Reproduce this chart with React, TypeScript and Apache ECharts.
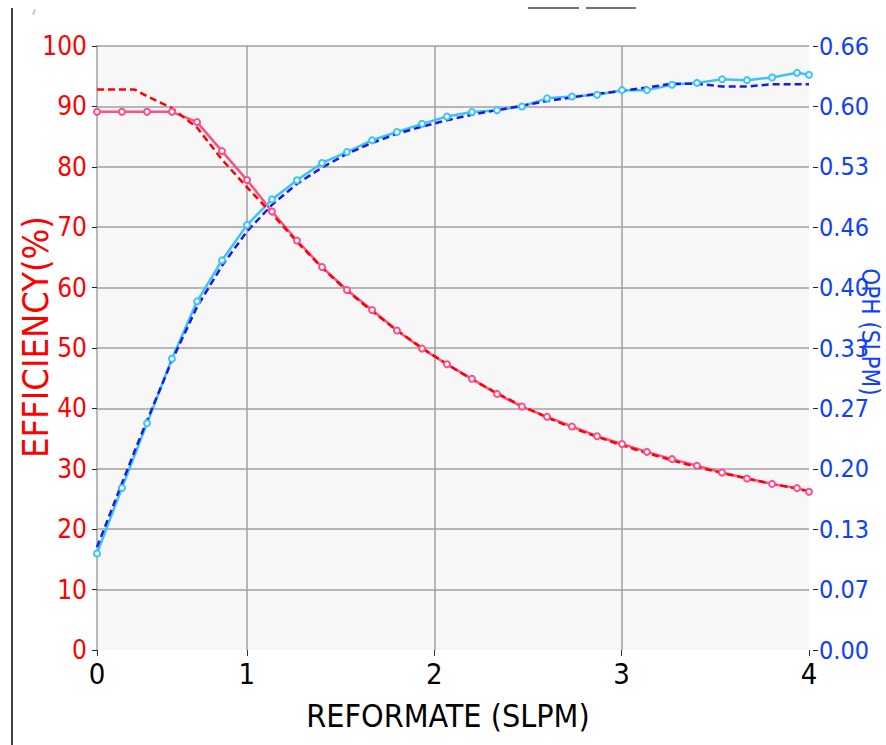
import React, { useEffect, useRef } from "react";
import * as echarts from "echarts";

// Reformate flow (SLPM) for measured points
const reformateMeasured = [0.2, 0.333, 0.467, 0.6, 0.734, 0.867, 1.001, 1.134, 1.267, 1.401, 1.534, 1.668, 1.801, 1.935, 2.068, 2.201, 2.335, 2.468, 2.602, 2.735, 2.869, 3.002, 3.135, 3.269, 3.402, 3.536, 3.669, 3.803, 3.936, 4.0];
const efficiencyMeasured = [89.1, 89.1, 89.1, 89.1, 87.4, 82.6, 77.8, 72.6, 67.8, 63.4, 59.6, 56.3, 52.9, 49.9, 47.3, 44.9, 42.4, 40.3, 38.6, 37.0, 35.4, 34.1, 32.8, 31.6, 30.5, 29.4, 28.4, 27.5, 26.8, 26.2];
const ophMeasured = [0.106, 0.178, 0.249, 0.320, 0.383, 0.428, 0.467, 0.495, 0.516, 0.535, 0.547, 0.560, 0.569, 0.578, 0.586, 0.591, 0.593, 0.597, 0.606, 0.608, 0.610, 0.615, 0.615, 0.621, 0.623, 0.627, 0.626, 0.629, 0.634, 0.632];

// Model curves
const reformateModel = [0.2, 0.333, 0.4, 0.467, 0.6, 0.734, 0.867, 1.001, 1.134, 1.267, 1.401, 1.534, 1.668, 1.801, 1.935, 2.068, 2.201, 2.335, 2.468, 2.602, 2.735, 2.869, 3.002, 3.135, 3.269, 3.402, 3.536, 3.669, 3.803, 3.936, 4.0];
const efficiencyModel = [92.8, 92.8, 92.8, 91.7, 89.7, 86.5, 81.2, 76.6, 72.2, 67.6, 63.3, 59.5, 56.1, 52.9, 50.0, 47.3, 44.8, 42.5, 40.4, 38.5, 36.8, 35.3, 33.9, 32.6, 31.4, 30.3, 29.3, 28.4, 27.5, 26.7, 26.3];
const ophModel = [0.113, 0.183, 0.218, 0.252, 0.318, 0.377, 0.422, 0.460, 0.489, 0.512, 0.530, 0.545, 0.557, 0.567, 0.575, 0.582, 0.588, 0.593, 0.598, 0.603, 0.607, 0.611, 0.614, 0.618, 0.622, 0.622, 0.619, 0.619, 0.6215, 0.6215, 0.6215];

const xTitle = "REFORMATE (SLPM)";
const leftTitle = "EFFICIENCY(%)";
const rightTitle = "OPH (SLPM)";

const FONT = '"Liberation Sans Narrow", "DejaVu Sans Condensed", "Liberation Sans", Arial, sans-serif';

export default function App() {
  const ref = useRef<HTMLDivElement>(null);

  useEffect(() => {
    if (!ref.current) return;
    const chart = echarts.init(ref.current, null, { renderer: "svg" });
    const zip = (xs: number[], ys: number[]) => xs.map((x, i) => [x, ys[i]]);
    const gridColor = "#a0a0a0";

    chart.setOption({
      animation: false,
      backgroundColor: "#ffffff",
      grid: {
        left: 97,
        right: 77,
        top: 46,
        bottom: 95,
        show: true,
        backgroundColor: "#f7f7f7",
        borderWidth: 0,
      },
      xAxis: {
        type: "value",
        min: 0.2,
        max: 4,
        splitNumber: 4,
        minInterval: 1,
        maxInterval: 1,
        offset: 4,
        axisLine: { show: false },
        axisTick: { show: true, length: 6, lineStyle: { color: "#333", width: 1 } },
        axisLabel: {
          formatter: (v: number) => Math.round(v).toString(),
          color: "#000",
          fontSize: 29,
          fontFamily: FONT,
          margin: 5,
          showMinLabel: true,
          showMaxLabel: true,
        },
        splitLine: {
          show: true,
          showMinLine: false,
          showMaxLine: false,
          lineStyle: { color: gridColor, width: 1.5 },
        },
      },
      yAxis: [
        {
          type: "value",
          position: "left",
          min: 0,
          max: 100,
          interval: 10,
          axisLine: { show: true, lineStyle: { color: gridColor, width: 1.5 } },
          axisTick: { show: true, length: 5, lineStyle: { color: "#222", width: 1 } },
          axisLabel: { color: "#ff0000", fontSize: 26, fontFamily: FONT, margin: 10 },
          splitLine: {
            show: true,
            showMinLine: false,
            lineStyle: { color: gridColor, width: 1.5 },
          },
        },
        {
          type: "value",
          position: "right",
          min: 0,
          max: 0.6635,
          interval: 0.06635,
          offset: 4,
          axisLine: { show: false },
          axisTick: { show: true, length: 5, lineStyle: { color: "#222", width: 1 } },
          axisLabel: {
            color: "#1040ff",
            fontSize: 25,
            fontFamily: FONT,
            margin: 6,
            formatter: (v: number) => v.toFixed(2),
          },
          splitLine: { show: false },
        },
      ],
      series: [
        {
          name: "Efficiency measured",
          type: "line",
          yAxisIndex: 0,
          data: zip(reformateMeasured, efficiencyMeasured),
          symbol: "emptyCircle",
          symbolSize: 6,
          lineStyle: { color: "#ff4f86", width: 2.5 },
          itemStyle: { color: "#ff4f86", borderColor: "#ff4f86", borderWidth: 1.2 },
        },
        {
          name: "OPH measured",
          type: "line",
          yAxisIndex: 1,
          data: zip(reformateMeasured, ophMeasured),
          symbol: "emptyCircle",
          symbolSize: 6,
          lineStyle: { color: "#3cc3f7", width: 2.5 },
          itemStyle: { color: "#3cc3f7", borderColor: "#3cc3f7", borderWidth: 1.2 },
        },
        {
          name: "Efficiency model",
          type: "line",
          yAxisIndex: 0,
          data: zip(reformateModel, efficiencyModel),
          symbol: "none",
          lineStyle: { color: "#ff0000", width: 2.5, type: [7, 4] },
        },
        {
          name: "OPH model",
          type: "line",
          yAxisIndex: 1,
          data: zip(reformateModel, ophModel),
          symbol: "none",
          lineStyle: { color: "#1a1ae6", width: 2.5, type: [7, 4] },
        },
      ],
      graphic: [
        { type: "line", shape: { x1: 12, y1: 8, x2: 12, y2: 745 }, style: { stroke: "#000", lineWidth: 1.5 } },
        { type: "line", shape: { x1: 35, y1: 9, x2: 33, y2: 15 }, style: { stroke: "#c8c8c8", lineWidth: 2 } },
        { type: "line", shape: { x1: 528, y1: 8, x2: 579, y2: 8 }, style: { stroke: "#444", lineWidth: 1.5 } },
        { type: "line", shape: { x1: 586, y1: 8, x2: 636, y2: 8 }, style: { stroke: "#444", lineWidth: 1.5 } },
        {
          type: "text",
          x: 448,
          y: 716,
          style: { text: xTitle, fill: "#000", font: `32px ${FONT}`, align: "center", verticalAlign: "middle" },
        },
        {
          type: "text",
          x: 35,
          y: 337,
          rotation: Math.PI / 2,
          style: { text: leftTitle, fill: "#ff0000", font: `36px ${FONT}`, align: "center", verticalAlign: "middle" },
        },
        {
          type: "text",
          x: 870,
          y: 332,
          rotation: -Math.PI / 2,
          style: { text: rightTitle, fill: "#1040ff", font: `24px ${FONT}`, align: "center", verticalAlign: "middle" },
        },
      ],
    });

    return () => chart.dispose();
  }, []);

  return <div ref={ref} style={{ position: "absolute", left: 0, top: 0, width: 886, height: 745 }} />;
}
